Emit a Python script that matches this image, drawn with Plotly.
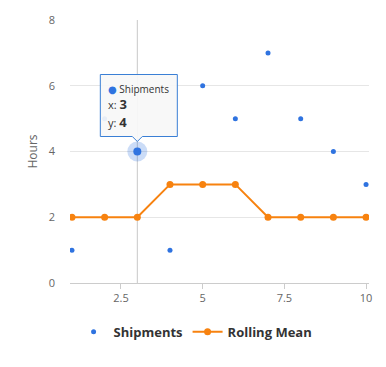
import plotly.graph_objects as go

x_vals = [1, 2, 3, 4, 5, 6, 7, 8, 9, 10]
shipments = [1, 5, 4, 1, 6, 5, 7, 5, 4, 3]
rolling_mean = [2, 2, 2, 3, 3, 3, 2, 2, 2, 2]
x_ticks = [2.5, 5, 7.5, 10]
x_tick_labels = ["2.5", "5", "7.5", "10"]
y_ticks = [0, 2, 4, 6, 8]

hover_idx = 2
BLUE = "#2f73e0"
ORANGE = "#f7820f"
FONT = "Open Sans, DejaVu Sans"

fig = go.Figure()

# halo for hovered point
fig.add_trace(go.Scatter(
    x=[x_vals[hover_idx]], y=[shipments[hover_idx]], mode="markers",
    marker=dict(size=20, color="rgba(47,115,224,0.25)", line=dict(width=0)),
    showlegend=False, hoverinfo="skip"))

fig.add_trace(go.Scatter(
    x=x_vals, y=shipments, mode="markers", name="<b>Shipments</b>",
    marker=dict(size=5, color=BLUE, line=dict(width=0))))

fig.add_trace(go.Scatter(
    x=[x_vals[hover_idx]], y=[shipments[hover_idx]], mode="markers",
    marker=dict(size=8, color=BLUE, line=dict(width=0)),
    showlegend=False, hoverinfo="skip"))

fig.add_trace(go.Scatter(
    x=x_vals, y=rolling_mean, mode="lines+markers", name="<b>Rolling Mean</b>",
    line=dict(color=ORANGE, width=2),
    marker=dict(size=7, color=ORANGE)))

# crosshair
fig.add_shape(type="line", xref="x", yref="paper",
              x0=x_vals[hover_idx], x1=x_vals[hover_idx], y0=0, y1=1,
              line=dict(color="#c8c8c8", width=1), layer="below")

# tooltip box
fig.add_shape(type="path", xref="x", yref="y",
              xsizemode="pixel", ysizemode="pixel",
              xanchor=x_vals[hover_idx], yanchor=shipments[hover_idx],
              path="M -37,15 L -5,15 L 0,10 L 5,15 L 40,15 L 40,77 L -37,77 Z",
              fillcolor="rgba(247,247,247,0.92)",
              line=dict(color="#3a7fd5", width=1), layer="above")

ax, ay = x_vals[hover_idx], shipments[hover_idx]
fig.add_annotation(x=ax, y=ay, xref="x", yref="y", showarrow=False,
                   xanchor="left", yanchor="middle", xshift=-31, yshift=63,
                   text=f"<span style='color:{BLUE}'>●</span> Shipments",
                   font=dict(family=FONT, size=10, color="#333333"))
fig.add_annotation(x=ax, y=ay, xref="x", yref="y", showarrow=False,
                   xanchor="left", yanchor="middle", xshift=-31, yshift=48,
                   text=f"x: <b><span style='font-size:13px'>{x_vals[hover_idx]}</span></b>",
                   font=dict(family=FONT, size=11, color="#333333"))
fig.add_annotation(x=ax, y=ay, xref="x", yref="y", showarrow=False,
                   xanchor="left", yanchor="middle", xshift=-31, yshift=30,
                   text=f"y: <b><span style='font-size:13px'>{shipments[hover_idx]}</span></b>",
                   font=dict(family=FONT, size=11, color="#333333"))

fig.update_layout(
    width=386, height=367,
    margin=dict(l=62, r=25, t=12, b=92, autoexpand=False),
    paper_bgcolor="white", plot_bgcolor="white",
    font=dict(family=FONT, color="#666666", size=11),
    xaxis=dict(range=[0.94, 10.09], tickvals=x_ticks, ticktext=x_tick_labels,
               showgrid=False, zeroline=False, showline=True, linecolor="#cccccc",
               ticks="outside", ticklen=5, tickcolor="#cccccc",
               tickfont=dict(size=11, color="#666666")),
    yaxis=dict(range=[0, 8], tickvals=y_ticks, showgrid=True, gridcolor="#e6e6e6",
               zeroline=False, showline=False, ticks="", ticklabelstandoff=14,
               title=dict(text="Hours", font=dict(size=12, color="#666666"), standoff=8),
               tickfont=dict(size=11, color="#666666")),
    legend=dict(orientation="h", x=0.42, xanchor="center", y=-0.186, yanchor="middle",
                font=dict(size=13, color="#333333", family=FONT),
                itemwidth=30),
    showlegend=True,
)

fig.write_html("out.html")
